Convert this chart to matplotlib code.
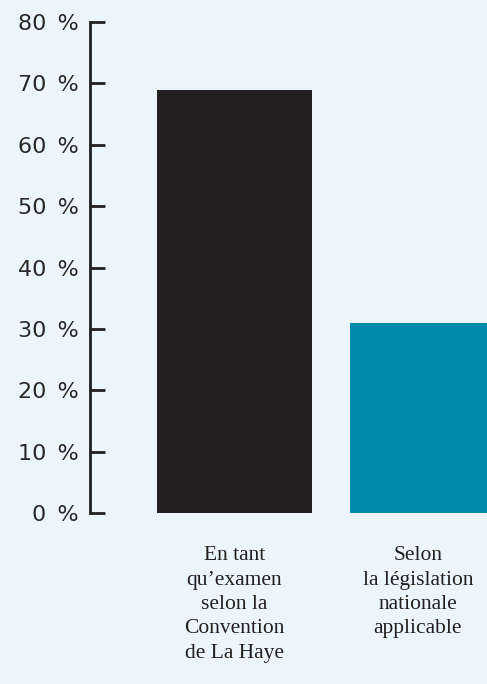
import numpy as np
import matplotlib.pyplot as plt

categories = ["En tant\nqu\u2019examen\nselon la\nConvention\nde La Haye",
              "Selon\nla l\u00e9gislation\nnationale\napplicable"]
shares = [69, 31]
y_ticks = [0, 10, 20, 30, 40, 50, 60, 70, 80]
y_tick_labels = [f"{v}\u2002%" for v in y_ticks]

background = "#EDF5FC"
ink = "#231F20"
bar_colours = [ink, "#008BAE"]

W, H = 487, 684
fig = plt.figure(figsize=(W / 100, H / 100), dpi=100, facecolor=background)
ax = fig.add_axes([90 / W, (H - 513) / H, 1 - 90 / W, (513 - 22) / H])
ax.set_facecolor(background)

positions = np.arange(len(shares))
ax.bar(positions, shares, width=0.8, color=bar_colours)

ax.set_ylim(0, 80)
ax.set_xlim(-0.749, 1.308)
ax.set_yticks(y_ticks)
ax.set_yticklabels(y_tick_labels, fontsize=16, color="#2b2829", family="DejaVu Sans")
ax.tick_params(axis="y", direction="in", length=11, width=2, color=ink, pad=8)

for side in ["top", "right", "bottom"]:
    ax.spines[side].set_visible(False)
ax.spines["left"].set_color(ink)
ax.spines["left"].set_linewidth(2)

ax.set_xticks([0, 0.95])
ax.set_xticklabels(categories, fontsize=15.5, color=ink, family="Liberation Serif",
                   linespacing=1.38, va="top")
ax.tick_params(axis="x", length=0, pad=24)

fig.savefig("out.png", dpi=100, facecolor=background)
